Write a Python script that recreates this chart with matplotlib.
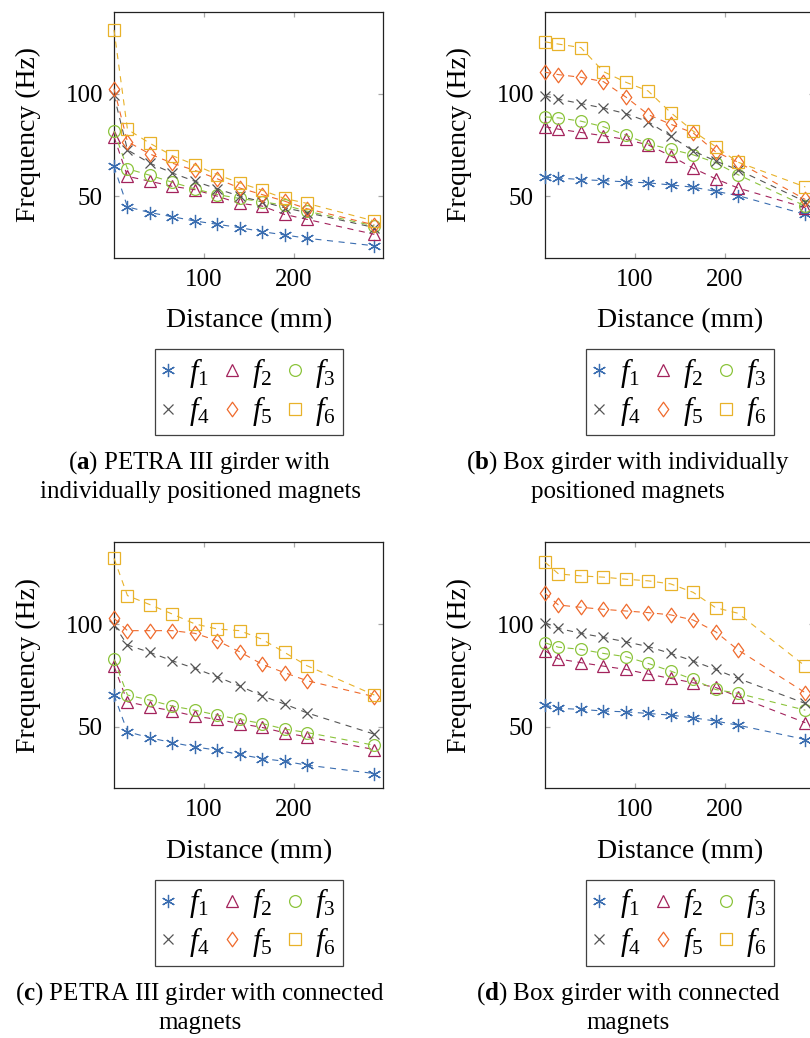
import matplotlib
matplotlib.use("Agg")
import matplotlib.pyplot as plt
from matplotlib.lines import Line2D
from matplotlib.path import Path

plt.rcParams['font.family'] = ['Liberation Serif', 'DejaVu Serif']
plt.rcParams['mathtext.fontset'] = 'custom'
plt.rcParams['mathtext.rm'] = 'Liberation Serif'
plt.rcParams['mathtext.it'] = 'Liberation Serif:italic'
plt.rcParams['mathtext.bf'] = 'Liberation Serif:bold'

# ---------------- data ----------------
distance = [0, 15, 40, 65, 90, 115, 140, 165, 190, 215, 290]
series_labels = [r'$f_1$', r'$f_2$', r'$f_3$', r'$f_4$', r'$f_5$', r'$f_6$']

# (a) PETRA III girder, individually positioned magnets
a_f1 = [64.5, 44.8, 42.0, 40.0, 37.9, 36.3, 34.7, 32.7, 31.1, 29.5, 25.8]
a_f2 = [79.0, 59.7, 57.3, 54.8, 53.2, 50.0, 46.5, 45.2, 41.1, 38.7, 31.4]
a_f3 = [81.8, 63.4, 60.2, 56.8, 53.6, 50.8, 48.9, 47.3, 45.6, 42.7, 35.5]
a_f4 = [99.2, 72.6, 66.1, 61.3, 57.3, 53.6, 50.0, 47.3, 44.4, 42.0, 34.7]
a_f5 = [102.4, 76.6, 70.6, 66.1, 62.6, 58.5, 54.0, 50.8, 47.6, 43.9, 36.0]
a_f6 = [131.1, 82.6, 75.8, 69.8, 65.3, 60.5, 56.5, 52.9, 48.9, 46.5, 37.9]

# (b) Box girder, individually positioned magnets
b_f1 = [59.2, 58.9, 58.1, 57.6, 57.0, 56.5, 55.5, 54.4, 52.4, 50.3, 41.1]
b_f2 = [83.9, 82.7, 81.1, 79.5, 77.7, 75.0, 69.7, 63.7, 58.5, 54.0, 44.4]
b_f3 = [88.7, 88.2, 86.6, 83.9, 79.8, 75.5, 72.9, 70.2, 66.4, 60.5, 45.2]
b_f4 = [98.9, 97.3, 95.2, 93.0, 90.3, 86.3, 79.3, 72.1, 67.2, 62.9, 47.3]
b_f5 = [110.5, 109.3, 108.0, 105.9, 98.4, 89.8, 85.1, 80.9, 71.7, 66.6, 48.4]
b_f6 = [125.3, 124.2, 122.5, 110.8, 105.6, 101.3, 90.8, 81.8, 74.2, 66.6, 54.5]

# (c) PETRA III girder, connected magnets
c_f1 = [65.5, 47.6, 44.6, 42.3, 40.2, 38.6, 36.5, 34.5, 33.2, 31.3, 27.2]
c_f2 = [79.6, 62.2, 59.8, 57.8, 55.2, 53.6, 51.6, 49.7, 47.1, 45.1, 38.9]
c_f3 = [82.9, 65.5, 63.0, 60.1, 58.1, 55.7, 53.6, 51.6, 48.9, 47.2, 41.0]
c_f4 = [99.7, 89.9, 86.3, 82.2, 78.5, 74.4, 69.9, 65.1, 61.1, 56.8, 46.4]
c_f5 = [102.9, 96.9, 96.9, 96.9, 95.6, 92.0, 86.6, 80.5, 76.4, 72.5, 64.7]
c_f6 = [132.2, 114.0, 109.6, 105.0, 100.2, 97.7, 96.9, 92.7, 86.3, 79.8, 65.5]

# (d) Box girder, connected magnets
d_f1 = [60.6, 59.0, 58.5, 57.7, 57.3, 56.5, 55.7, 54.4, 52.8, 50.8, 43.8]
d_f2 = [87.1, 83.1, 81.3, 79.6, 78.0, 75.7, 73.6, 71.5, 69.2, 64.7, 52.0]
d_f3 = [91.0, 88.8, 87.8, 85.8, 84.2, 80.9, 77.2, 73.1, 68.2, 66.3, 58.1]
d_f4 = [100.8, 98.0, 95.6, 93.6, 91.5, 89.1, 85.8, 82.1, 78.0, 73.6, 61.4]
d_f5 = [115.1, 109.4, 108.3, 107.3, 106.5, 105.7, 104.6, 102.1, 96.4, 87.5, 66.6]
d_f6 = [130.3, 124.6, 123.6, 123.0, 122.0, 121.2, 119.7, 115.6, 108.1, 105.4, 79.6]

x_ticks = [100, 200]
y_ticks = [50, 100]
captions = [
    (r'($\mathbf{a}$) PETRA III girder with', 'individually positioned magnets'),
    (r'($\mathbf{b}$) Box girder with individually', 'positioned magnets'),
    (r'($\mathbf{c}$) PETRA III girder with connected', 'magnets'),
    (r'($\mathbf{d}$) Box girder with connected', 'magnets'),
]

# ---------------- styles ----------------
colors = ['#3a6db0', '#a3235c', '#8cc43c', '#555555', '#ef6a2c', '#e8b22a']
diamond = Path([(0, 1), (0.72, 0), (0, -1), (-0.72, 0), (0, 1)],
               [Path.MOVETO, Path.LINETO, Path.LINETO, Path.LINETO, Path.CLOSEPOLY])
markers = [(6, 2, 0), '^', 'o', 'x', diamond, 's']
msizes = [9.5, 8.5, 8.5, 7.5, 10.5, 8.5]

W, H = 810, 1038
fig = plt.figure(figsize=(W / 100, H / 100), dpi=100)

ax_w, ax_h = 269.3, 246
panels = [
    (114, 11.7, [a_f1, a_f2, a_f3, a_f4, a_f5, a_f6]),
    (545, 11.7, [b_f1, b_f2, b_f3, b_f4, b_f5, b_f6]),
    (114, 542.3, [c_f1, c_f2, c_f3, c_f4, c_f5, c_f6]),
    (545, 542.3, [d_f1, d_f2, d_f3, d_f4, d_f5, d_f6]),
]

for idx, (left, top, series) in enumerate(panels):
    ax = fig.add_axes([left / W, 1 - (top + ax_h) / H, ax_w / W, ax_h / H])
    for k, ys in enumerate(series):
        ax.plot(distance, ys, color=colors[k], lw=0.8, dashes=(5.5, 5),
                marker=markers[k], ms=msizes[k], mfc='none', mec=colors[k],
                mew=0.9, clip_on=False, zorder=3)
    ax.set_xlim(0, 300)
    ax.set_ylim(20, 140)
    ax.set_xticks(x_ticks)
    ax.set_yticks(y_ticks)
    ax.tick_params(direction='in', length=3.5, width=0.9, color='#a8a8a8',
                   labelsize=18, top=True, right=True, pad=8)
    for sp in ax.spines.values():
        sp.set_linewidth(0.9)
        sp.set_color('#222222')
    ax.set_xlabel('Distance (mm)', fontsize=20)
    ax.set_ylabel('Frequency (Hz)', fontsize=20)
    ax.xaxis.set_label_coords(0.5, -0.205)
    ax.yaxis.set_label_coords(-0.27, 0.5)

    # legend (marker-only entries, row-major order)
    handles = [Line2D([], [], ls='none', marker=markers[k], ms=msizes[k],
                      mfc='none', mec=colors[k], mew=0.9) for k in range(6)]
    order = [0, 3, 1, 4, 2, 5]
    cx = left + ax_w / 2
    cy = top + 380.3
    leg = fig.legend([handles[i] for i in order], [series_labels[i] for i in order],
                     ncol=3, loc='center', bbox_to_anchor=(cx / W, 1 - cy / H),
                     fontsize=22, frameon=True, fancybox=False, edgecolor='#111111',
                     handlelength=0.45, handletextpad=0.45, columnspacing=0.5,
                     borderpad=0.22, labelspacing=0.15, borderaxespad=0)
    leg.get_frame().set_linewidth(0.9)

    # caption
    ccx = 200 if left < 300 else 628
    l1, l2 = captions[idx]
    fig.text(ccx / W, 1 - (top + 451.3) / H, l1, ha='center', va='center', fontsize=18)
    fig.text(ccx / W, 1 - (top + 480.3) / H, l2, ha='center', va='center', fontsize=18)

fig.savefig('out.png', dpi=100)
